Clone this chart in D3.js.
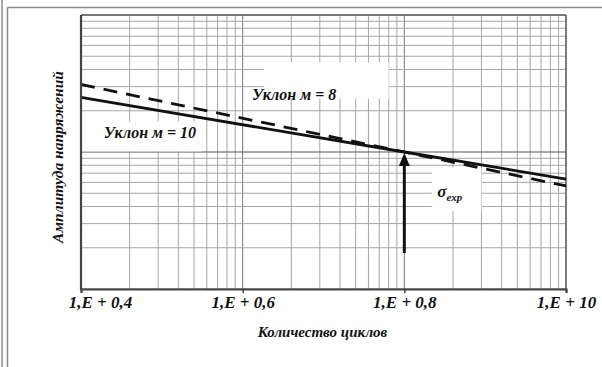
<!DOCTYPE html>
<html>
<head>
<meta charset="utf-8">
<script src="https://cdn.jsdelivr.net/npm/d3@7"></script>
<style>
  body { margin: 0; background: #fff; }
  svg { display: block; }
  text { font-family: "Liberation Serif", "DejaVu Serif", serif; font-style: italic; font-weight: bold; }
</style>
</head>
<body>
<div id="viz"></div>
<script>
// chart data
var xTicks = [1e4, 1e5, 1e6, 1e7];
var xTickLabels = ["1,E + 0,4", "1,E + 0,6", "1,E + 0,8", "1,E + 10"];
var cycles = [1e4, 1e6, 1e7];
var slope10 = [25.0, 10, 6.35];   // Уклон м = 10 (solid)
var slope8 = [31.1, 10, 5.65];    // Уклон м = 8 (dashed)
var sigmaExp = [10, 1.83];        // arrow top / bottom at N = 1e6
var xTitle = "Количество циклов";
var yTitle = "Амплитуда напряжений";

var w = 602, h = 367;
var margin = { top: 15, right: 36, bottom: 78, left: 81 };
var figw = w - margin.left - margin.right;
var figh = h - margin.top - margin.bottom;

var svg = d3.select("div#viz").append("svg")
  .attr("width", w)
  .attr("height", h);

// outer frame
svg.append("line").attr("x1", 2).attr("y1", 0).attr("x2", 2).attr("y2", h)
  .attr("stroke", "#888").attr("stroke-width", 1.5);
svg.append("line").attr("x1", 7.5).attr("y1", 7.5).attr("x2", 7.5).attr("y2", h)
  .attr("stroke", "#888").attr("stroke-width", 1.5);
svg.append("line").attr("x1", 7.5).attr("y1", 7.5).attr("x2", w).attr("y2", 7.5)
  .attr("stroke", "#888").attr("stroke-width", 1.5);

var g = svg.append("g")
  .attr("transform", "translate(" + margin.left + "," + margin.top + ")");

var x = d3.scaleLog().domain([1e4, 1e7]).range([0, figw]);
var y = d3.scaleLog().domain([1, 100]).range([figh, 0]);

// grid lines (every 1..9 of each decade)
var xGrid = x.ticks(30);
var yGrid = y.ticks(30);
var isDecade = function (d) { return Math.abs(Math.log10(d) - Math.round(Math.log10(d))) < 1e-9; };

g.selectAll("line.xg").data(xGrid).enter().append("line")
  .attr("class", "xg")
  .attr("x1", function (d) { return x(d); })
  .attr("x2", function (d) { return x(d); })
  .attr("y1", 0).attr("y2", figh)
  .attr("stroke", function (d) { return isDecade(d) ? "#777" : "#a5a5a5"; })
  .attr("stroke-width", 1);

g.selectAll("line.yg").data(yGrid).enter().append("line")
  .attr("class", "yg")
  .attr("y1", function (d) { return y(d); })
  .attr("y2", function (d) { return y(d); })
  .attr("x1", 0).attr("x2", figw)
  .attr("stroke", function (d) { return isDecade(d) ? "#555" : "#a5a5a5"; })
  .attr("stroke-width", 1);

// frame of plot area
g.append("line").attr("x1", figw).attr("x2", figw).attr("y1", 0).attr("y2", figh)
  .attr("stroke", "#666").attr("stroke-width", 1.5);
g.append("line").attr("x1", 0).attr("x2", figw).attr("y1", 0).attr("y2", 0)
  .attr("stroke", "#666").attr("stroke-width", 1.5);

// white label boxes behind annotations (x0, x1 in cycles; y0, y1 in amplitude)
function labelBox(x0, x1, y0, y1) {
  g.append("rect").attr("x", x(x0)).attr("y", y(y1))
    .attr("width", x(x1) - x(x0)).attr("height", y(y0) - y(y1)).attr("fill", "#fff");
}
labelBox(1.01e4, 5.6e4, 10.1, 16.7);
labelBox(1.35e5, 8.0e5, 24.5, 45);
labelBox(1.48e6, 3.0e6, 3.7, 7.7);

// S-N lines
var line = d3.line()
  .x(function (d) { return x(d[0]); })
  .y(function (d) { return y(d[1]); });

g.append("path")
  .datum(d3.zip(cycles, slope10))
  .attr("d", line)
  .attr("fill", "none").attr("stroke", "#111").attr("stroke-width", 2.8);

g.append("path")
  .datum(d3.zip(cycles, slope8))
  .attr("d", line)
  .attr("fill", "none").attr("stroke", "#111").attr("stroke-width", 2.8)
  .attr("stroke-dasharray", "14,9");

// sigma_exp arrow
g.append("line")
  .attr("x1", x(1e6)).attr("x2", x(1e6))
  .attr("y1", y(sigmaExp[1])).attr("y2", y(sigmaExp[0]) + 8)
  .attr("stroke", "#111").attr("stroke-width", 3);
g.append("path")
  .attr("d", "M" + x(1e6) + "," + (y(sigmaExp[0]) + 1) + " l-5.5,13 l11,0 z")
  .attr("fill", "#111");

// axes
var xAxis = d3.axisBottom(x).tickValues(xTicks).tickSize(4)
  .tickFormat(function (d, i) { return xTickLabels[i]; });
var ax = g.append("g").attr("transform", "translate(0," + figh + ")").call(xAxis);
ax.select(".domain").attr("stroke", "#444").attr("stroke-width", 2.2);
ax.selectAll(".tick line").attr("stroke", "#444").attr("stroke-width", 1.5);
ax.selectAll(".tick text")
  .style("font-family", "'Liberation Serif', serif")
  .style("font-size", "17px").style("font-style", "italic").style("font-weight", "bold")
  .attr("fill", "#111")
  .attr("dx", function (d, i) { return i === 0 ? 19 : 0; });

g.append("line").attr("x1", 0).attr("x2", 0).attr("y1", 0).attr("y2", figh + 1)
  .attr("stroke", "#444").attr("stroke-width", 2.2);

// annotation texts
g.append("text").text("Уклон м = 10")
  .attr("x", x(2.67e4)).attr("y", y(13.8)).attr("dy", "0.35em")
  .attr("text-anchor", "middle").style("font-size", "16px").attr("fill", "#111");
g.append("text").text("Уклон м = 8")
  .attr("x", x(2.08e5)).attr("y", y(26.5)).attr("dy", "0.35em")
  .attr("text-anchor", "middle").style("font-size", "16px").attr("fill", "#111");

var sg = g.append("text")
  .attr("x", x(1.91e6)).attr("y", y(5.1)).attr("dy", "0.3em")
  .attr("text-anchor", "middle").style("font-size", "17px").attr("fill", "#111");
sg.append("tspan").text("σ");
sg.append("tspan").text("exp").attr("dy", "4").style("font-size", "11px");

// axis titles
svg.append("text").text(xTitle)
  .attr("x", margin.left + figw / 2 - 1).attr("y", 337)
  .attr("text-anchor", "middle").style("font-size", "15px").attr("fill", "#111");

svg.append("text").text(yTitle)
  .attr("transform", "translate(63," + 157 + ") rotate(-90)")
  .attr("text-anchor", "middle").style("font-size", "15.5px").attr("fill", "#111");
</script>
</body>
</html>
